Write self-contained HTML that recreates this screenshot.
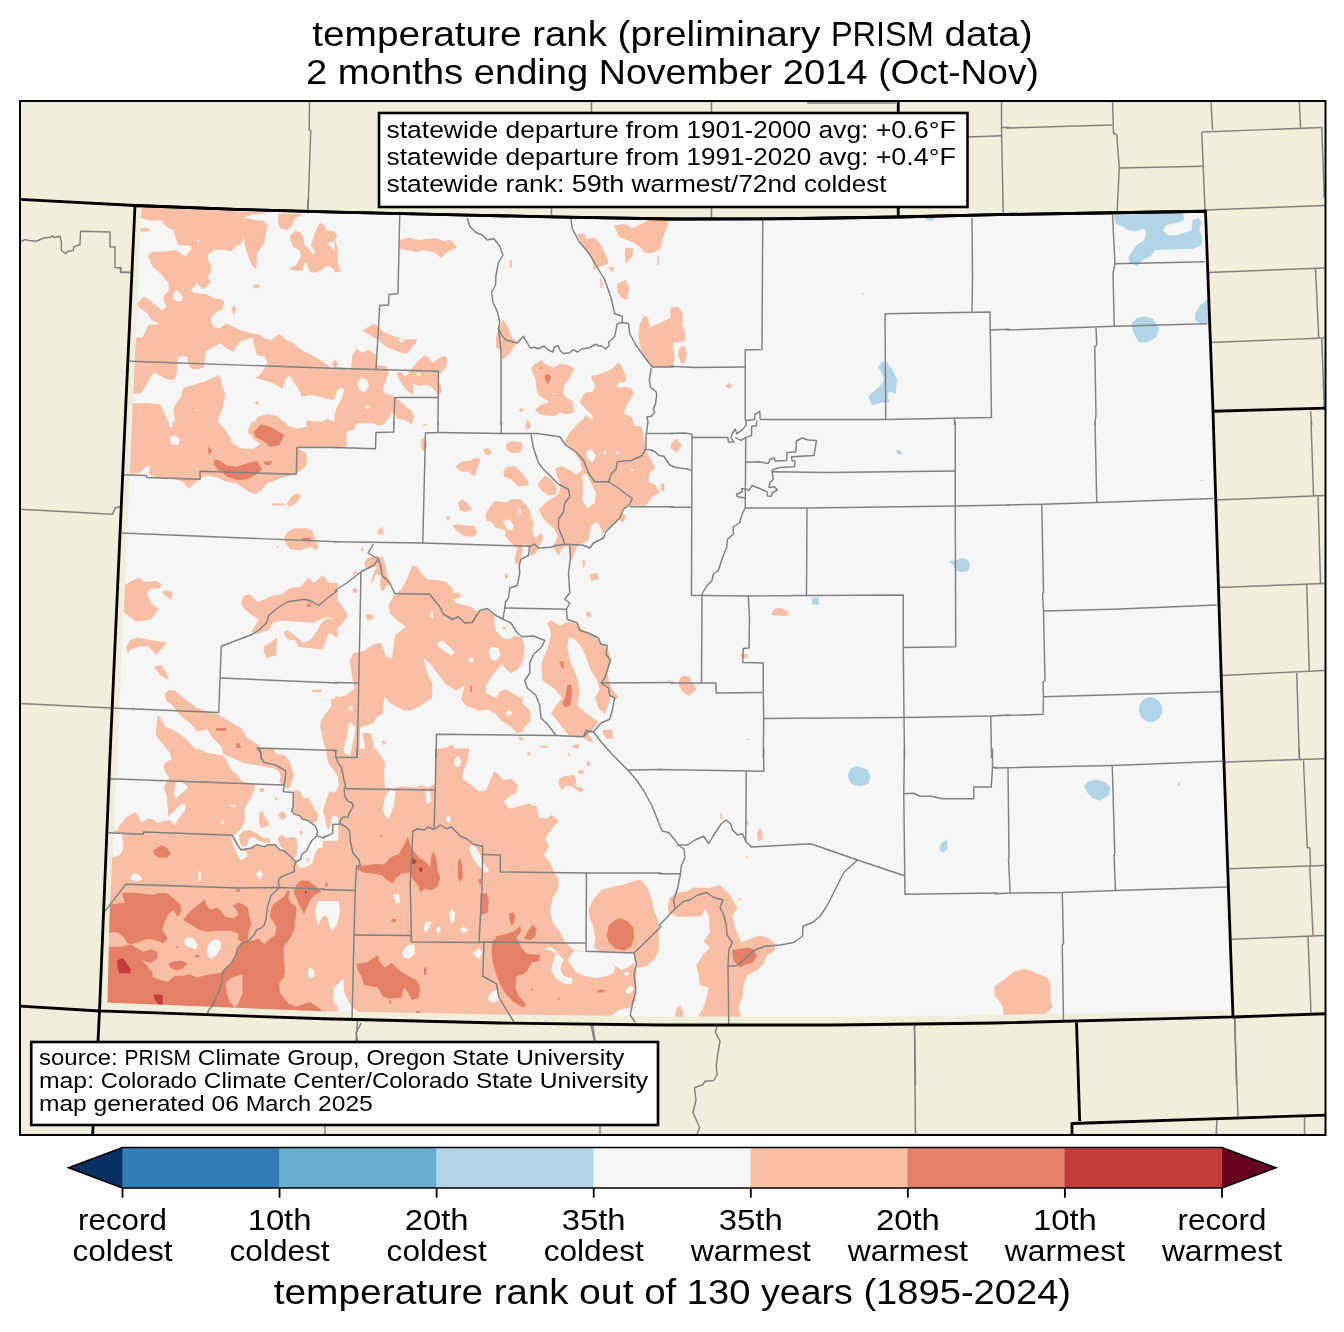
<!DOCTYPE html>
<html><head><meta charset="utf-8"><title>temperature rank</title>
<style>
html,body{margin:0;padding:0;background:#fff;}
body{width:1344px;height:1332px;overflow:hidden;position:relative;font-family:"Liberation Sans",sans-serif;}
svg{display:block;}
text{font-family:"Liberation Sans",sans-serif;fill:#000;}
</style></head><body>
<svg width="1344" height="1332" viewBox="0 0 1344 1332">
<defs>
<clipPath id="frame"><rect x="20" y="101" width="1305.5" height="1034"/></clipPath>
<clipPath id="dataclip"><polygon points="141.5,205.5 236,208.8 336,211.7 468,214.7 551,216.3 672,218.5 760,218.3 800,218 897,216.5 1008,213.9 1100,212.5 1205.5,210.75 1213,411.25 1223.5,750 1232.7,1010 996,1015 835,1016.8 660,1016.5 499,1014.5 324,1011.25 107.5,1002.5 110,900 117.5,756 132,423"/></clipPath>
</defs>
<rect x="0" y="0" width="1344" height="1332" fill="#fff"/>
<!-- map frame background -->
<rect x="20" y="101" width="1305.5" height="1034" fill="#efefdb"/>
<g clip-path="url(#frame)">
<!-- outside county lines -->
<g transform="translate(0,423) scale(0.25)" fill="none" stroke="#808080" stroke-width="5.8" stroke-linejoin="round"><polyline points="80,345 450,365 460,340 480,335"/><polyline points="80,1122 445,1140"/></g>
<g transform="translate(1008,90) scale(0.25)" fill="none" stroke="#808080" stroke-width="5.8" stroke-linejoin="round"><polyline points="-6,152 418,140"/><polyline points="418,40 422,175 435,178 445,312 438,455 437,490"/><polyline points="445,312 778,305"/><polyline points="812,40 818,160"/><polyline points="775,168 1255,150"/><polyline points="775,168 788,480"/><polyline points="1165,40 1170,150"/><polyline points="1255,150 1265,430"/><polyline points="788,480 1268,462"/><polyline points="800,730 1265,712"/><polyline points="1230,715 1243,992"/><polyline points="810,1010 1265,992"/><polyline points="1255,995 1265,1270"/><polyline points="1210,1285 1215,1340"/></g>
<g transform="translate(1008,423) scale(0.25)" fill="none" stroke="#808080" stroke-width="5.8" stroke-linejoin="round"><polyline points="1212,-6 1222,290"/><polyline points="830,308 1265,290"/><polyline points="1240,295 1250,640"/><polyline points="842,658 1265,642"/><polyline points="1195,648 1205,992"/><polyline points="855,1010 1265,990"/><polyline points="1155,1000 1165,1340"/></g>
<g transform="translate(120,200) scale(0.166667)" fill="none" stroke="#808080" stroke-width="8.7" stroke-linejoin="round"><polyline points="-5,405 5,405 5,432 65,435"/><polyline points="1128,-5 1125,55"/></g>
<g transform="translate(324,750) scale(0.25)" fill="none" stroke="#808080" stroke-width="5.8" stroke-linejoin="round"><polyline points="148,1092 140,1110 128,1130 135,1165"/><polyline points="1068,1100 1082,1165"/></g>
<g transform="translate(336,90) scale(0.25)" fill="none" stroke="#808080" stroke-width="5.8" stroke-linejoin="round"><polyline points="1022,40 1022,100"/><polyline points="862,460 862,507"/></g>
<g transform="translate(660,750) scale(0.25)" fill="none" stroke="#808080" stroke-width="5.8" stroke-linejoin="round"><polyline points="228,1105 222,1130 240,1165 232,1210 225,1260 228,1300 215,1322 180,1325 170,1340"/><polyline points="1018,1100 1022,1340"/></g>
<g transform="translate(672,90) scale(0.25)" fill="none" stroke="#808080" stroke-width="5.8" stroke-linejoin="round"><polyline points="158,40 158,100"/><polyline points="158,460 158,512"/><polyline points="540,52 895,52"/><polyline points="1318,40 1318,150 1350,150"/><polyline points="1185,188 1318,183"/><polyline points="1318,150 1325,498"/></g>
<g transform="translate(996,750) scale(0.25)" fill="none" stroke="#808080" stroke-width="5.8" stroke-linejoin="round"><polyline points="915,48 1312,35"/><polyline points="1212,-6 1215,40"/><polyline points="1230,42 1245,390 1255,392 1258,462"/><polyline points="930,475 1312,462"/><polyline points="1255,465 1268,742"/><polyline points="942,757 1312,742"/><polyline points="1248,748 1260,1055"/><polyline points="955,1070 958,1190 962,1340"/></g>
<g transform="translate(0,0) scale(1)" fill="none" stroke="#808080" stroke-width="1.45" stroke-linejoin="round"><polyline points="18.75,243 25,239.5 28.75,240.5 36.25,241.25 43.75,238 51.25,237 52.5,235.75 53.75,237.5 60,236.25 61.5,242.5 61.25,250 65.5,253.75 68,251.25 73.25,250.5 73.75,247 80,244.5 80.5,231.25 110,232 110,246.75 115,247 115,267.5 120.5,268 120.5,272.5 132,272.5"/><polyline points="309.5,100 309.25,130 310.75,130.5 308,211.25"/><polyline points="357.5,1020 356,1041"/><polyline points="592.5,1024 595,1041"/><polyline points="325,1124 325,1136"/><polyline points="600,1124 600,1136"/><polyline points="914.5,1024 915.5,1136"/><polyline points="702.5,1085 694.5,1087.5 696,1100 693,1112.5 699.5,1127.5 696,1137"/><polyline points="1234.5,1016 1238,1117"/><polyline points="1217,1120 1216,1136"/><polyline points="1304.5,1117 1304.5,1136"/></g>

<!-- data field -->
<polygon points="141.5,205.5 236,208.8 336,211.7 468,214.7 551,216.3 672,218.5 760,218.3 800,218 897,216.5 1008,213.9 1100,212.5 1205.5,210.75 1213,411.25 1223.5,750 1232.7,1010 996,1015 835,1016.8 660,1016.5 499,1014.5 324,1011.25 107.5,1002.5 110,900 117.5,756 132,423" fill="#f7f6f6"/>
<g clip-path="url(#dataclip)">
<g transform="translate(0,423) scale(0.25)" fill="#f8bfa4"><polygon points="500,-6 500,205 560,200 585,175 600,170 595,205 620,215 700,225 730,235 755,262 780,240 800,225 820,210 860,215 905,235 945,240 985,270 1020,285 1045,270 1070,240 1100,230 1140,215 1185,205 1215,180 1230,160 1225,120 1188,100 1350,95 1350,-6"/><polygon points="1088,322 1135,322 1140,330 1090,330"/><polygon points="1145,325 1165,295 1190,280 1205,292 1180,325 1160,335"/><polygon points="1135,460 1150,435 1175,422 1225,420 1250,432 1260,465 1275,495 1265,510 1240,495 1200,510 1160,505 1145,485"/><polygon points="1108,492 1113,492 1113,500 1108,500"/><polygon points="480,660 520,635 555,618 580,635 625,632 648,645 640,660 600,665 588,685 605,720 635,745 605,785 545,795 510,770 480,740"/><polygon points="648,675 670,668 692,680 685,705 660,690"/><polygon points="505,895 520,868 550,858 600,868 668,878 625,928 595,895 560,893 525,905 510,922"/><polygon points="615,975 645,968 665,1000 678,1030 650,1015 630,995"/><polygon points="658,1085 675,1068 700,1070 740,1105 790,1140 870,1165 920,1195 965,1220 990,1260 1040,1290 1030,1340 940,1340 923,1325 896,1323 883,1292 850,1260 830,1225 790,1235 760,1200 720,1170 690,1130 665,1110"/><polygon points="630,1170 640,1175 660,1215 700,1230 740,1260 768,1290 792,1314 852,1323 894,1332 900,1340 686,1340 680,1320 656,1290 626,1254 623,1236 629,1183"/><polygon points="965,715 975,690 1000,685 1030,715 1060,705 1090,690 1130,685 1160,660 1200,655 1235,620 1255,640 1290,610 1320,640 1350,640 1350,790 1310,775 1250,800 1200,795 1130,790 1090,800 1075,830 1050,835 1030,845 1005,835 1020,810 1035,785 1010,770 985,750 970,735"/><polygon points="1135,835 1150,828 1185,855 1215,880 1245,865 1270,830 1285,800 1310,780 1350,790 1350,860 1315,840 1290,905 1230,900 1195,895 1180,870 1150,865 1138,850"/><polygon points="1055,895 1080,880 1108,858 1105,930 1065,940 1055,915"/><polygon points="1350,1090 1330,1110 1340,1140 1310,1165 1285,1195 1280,1230 1300,1280 1310,1310 1350,1310"/><polygon points="1248,1068 1285,1066 1285,1078 1250,1076"/><polygon points="532,1135 536,1135 536,1150 532,1150"/></g>
<g transform="translate(90,900) scale(0.166667)" fill="#f8bfa4"><polygon points="60,425 1420,425 1420,700 60,660"/></g>
<g transform="translate(1008,423) scale(0.25)" fill="#f8bfa4"><polygon points="772,228 780,228 780,232 772,232"/></g>
<g transform="translate(100,750) scale(0.166667)" fill="#f8bfa4"><polygon points="40,497 800,512 830,490 850,470 870,420 865,360 880,330 905,290 925,240 930,200 870,195 850,185 825,150 790,120 765,75 742,34 630,15 600,-6 440,-6 420,15 428,55 395,75 380,95 392,135 415,165 400,195 385,215 388,245 400,275 405,330 410,400 440,372 465,340 495,320 512,330 510,365 485,395 462,425 450,455 430,432 420,420 380,425 345,440 325,420 290,410 250,435 215,370 190,385 155,405 130,440 108,460 112,480 40,490"/><polygon points="40,497 800,512 845,598 905,590 940,568 985,580 1010,568 1050,568 1080,600 1105,605 1140,635 1175,672 1200,710 1240,700 1275,680 1290,620 1310,590 1350,580 1350,1340 40,1340"/><polygon points="735,-6 740,25 800,50 860,78 960,95 1040,110 1075,130 1085,160 1075,190 1090,205 1105,215 1120,230 1140,225 1150,190 1165,150 1150,110 1135,60 1105,30 1060,25 1040,-6"/><polygon points="1160,255 1175,235 1200,250 1220,290 1250,285 1270,320 1290,360 1320,395 1305,425 1280,440 1250,425 1215,415 1200,395 1165,385 1150,365 1158,340"/><polygon points="955,232 985,230 985,250 958,250"/><polygon points="1045,285 1060,282 1070,298 1055,305"/><polygon points="955,380 975,365 990,400 1005,425 1020,445 990,460 965,470 955,430"/><polygon points="1068,390 1095,365 1118,395 1095,425"/><polygon points="1195,490 1210,485 1220,500 1205,510"/><polygon points="1235,650 1250,645 1255,660 1240,668"/><polygon points="835,510 860,485 900,480 940,500 975,525 1020,530 1025,560 985,555 950,545 920,520 890,535 885,575 850,580 838,550"/><polygon points="1065,530 1090,505 1120,530 1150,520 1180,530 1185,580 1180,640 1160,650 1140,630 1105,600 1080,575"/></g>
<g transform="translate(120,200) scale(0.166667)" fill="#f8bfa4"><polygon points="128,45 820,72 905,76 790,88 745,105 800,119 860,125 890,155 875,200 865,260 822,320 820,410 808,412 790,390 770,340 745,260 740,215 735,255 700,275 665,310 625,298 560,300 525,335 530,365 550,395 540,440 525,460 545,490 520,520 495,535 462,498 425,545 450,560 520,565 560,590 610,595 625,610 615,655 575,675 550,700 548,740 570,765 600,770 640,740 680,760 720,780 790,800 830,805 870,830 910,840 950,805 975,815 995,840 1030,850 1090,900 1140,925 1200,960 1260,1000 1350,1040 1350,1120 1300,1135 1295,1165 1310,1180 1290,1200 1230,1190 1150,1170 1090,1180 1075,1140 1040,1090 1015,1050 990,1085 975,1135 920,1100 860,1080 810,1068 850,1040 870,1000 885,975 870,940 820,930 800,850 795,825 720,850 680,910 640,890 600,860 560,885 520,905 510,940 505,1000 470,1015 435,1015 410,990 405,945 375,935 345,950 340,1050 325,1080 280,1075 205,1035 180,1070 150,1120 130,1160 60,1165 60,825 135,825 170,750 235,745 185,715 165,680 120,650 100,625 135,585 160,585 200,620 250,660 280,640 258,600 265,570 295,540 290,495 240,440 195,400 180,365 168,335 190,310 250,310 340,300 390,340 430,295 420,275 350,270 330,215 320,180 285,165 240,120 180,125 120,108"/><polygon points="120,168 170,168 180,180 170,190 120,190"/><polygon points="950,80 1100,84 1050,110 1030,160 1000,180 960,170 948,130"/><polygon points="1020,215 1050,185 1085,195 1100,225 1105,265 1130,290 1160,330 1170,310 1145,270 1160,230 1175,180 1200,135 1225,150 1240,185 1280,185 1305,215 1280,250 1240,260 1270,285 1295,320 1305,400 1330,430 1290,420 1250,395 1215,415 1180,435 1145,435 1125,400 1115,370 1100,395 1095,425 1050,425 1010,415 1060,385 1085,340 1080,305 1040,280 1022,245"/><polygon points="798,508 830,505 847,515 825,530 802,528"/><polygon points="683,630 700,655 685,690 668,655"/><polygon points="1268,982 1292,955 1308,985 1292,1008"/><polygon points="808,1215 822,1208 835,1218 822,1230"/><polygon points="60,1220 150,1218 240,1225 260,1260 280,1310 290,1340 60,1340"/><polygon points="385,1125 440,1110 520,1085 590,1050 605,1070 610,1110 632,1160 620,1240 600,1290 585,1340 330,1340 320,1250 365,1180 372,1140"/><polygon points="800,1340 830,1300 880,1285 940,1295 970,1320 990,1340"/><polygon points="1310,1180 1350,1170 1350,1340 1285,1340 1300,1290 1320,1250 1335,1215"/></g>
<g transform="translate(324,750) scale(0.25)" fill="#f8bfa4"><polygon points="-6,-6 580,-6 575,40 560,80 555,115 590,140 620,165 650,160 665,120 680,85 700,100 715,120 750,115 775,140 770,170 745,185 720,205 740,235 780,225 820,215 850,225 860,270 890,275 910,260 940,285 915,310 885,355 900,385 880,420 905,450 920,490 940,520 935,560 915,590 905,640 915,690 945,730 965,770 1000,800 1048,808 1100,815 1140,835 1165,865 1190,880 1215,870 1240,850 1250,900 1245,960 1250,1000 1225,1030 1180,1040 1150,1062 1150,1100 -6,1100"/><polygon points="1058,640 1075,600 1110,560 1150,548 1200,538 1240,525 1265,518 1290,545 1310,590 1320,640 1338,690 1340,720 1240,812 1200,812 1150,810 1100,808 1080,790 1085,750 1075,700 1062,670"/><polygon points="1240,812 1340,712 1340,800 1320,840 1290,865 1255,872 1245,850"/><polygon points="938,120 960,105 1000,100 1010,120 1005,145 1030,150 1040,160 1025,170 1000,150 975,140 950,160 940,140"/><polygon points="1015,85 1035,78 1042,92 1025,98"/><polygon points="1050,50 1062,42 1065,60 1055,68"/><polygon points="815,8 825,8 825,20 815,20"/><polygon points="975,12 982,12 982,25 975,25"/></g>
<g transform="translate(336,90) scale(0.25)" fill="#f8bfa4"><polygon points="255,600 290,590 330,600 400,592 430,605 460,600 485,630 440,650 420,672 395,650 350,640 320,648 255,635"/><polygon points="-6,590 8,640 5,690 20,725 -6,730"/><polygon points="105,962 150,935 170,945 185,965 230,985 280,1000 322,998 290,1050 240,1035 190,1010 150,990"/><polygon points="65,1065 80,1035 105,1050 130,1040 160,1060 162,1122 200,1125 215,1150 210,1185 190,1215 235,1228 230,1333 -6,1333 -6,1118 60,1118"/><polygon points="310,1100 355,1060 375,1085 420,1065 445,1080 440,1120 410,1130 415,1200 405,1225 330,1210 290,1170 265,1190 240,1150 260,1125 310,1120"/><polygon points="640,990 650,955 668,918 690,950 705,990 725,1010 690,1060 665,1080 655,1040 640,1030"/><polygon points="695,680 703,680 703,710 695,710"/><polygon points="1112,543 1126,539 1149,536 1171,543 1187,553 1211,539 1235,529 1249,517 1333,517 1326,546 1316,570 1306,598 1302,622 1292,641 1261,653 1235,650 1226,639 1211,624 1187,610 1159,598 1140,591 1128,581 1121,562"/><polygon points="965,575 995,575 1000,595 1035,592 1060,620 1085,670 1090,695 1060,705 1030,720 1025,680 1005,650 985,620"/><polygon points="1158,630 1190,635 1185,665 1160,695 1155,660"/><polygon points="1090,710 1108,705 1115,720 1100,727"/><polygon points="1125,775 1160,760 1172,790 1165,840 1140,830 1125,805"/><polygon points="1055,755 1063,757 1066,795 1058,790"/><polygon points="1285,665 1292,665 1292,700 1285,700"/><polygon points="1215,935 1235,900 1250,915 1255,950 1290,935 1350,905 1350,1108 1265,1108 1240,1075 1215,1030 1210,980"/><polygon points="780,1112 795,1096 822,1080 843,1099 873,1111 894,1096 929,1099 952,1112 945,1134 929,1161 913,1179 908,1212 924,1233 948,1246 952,1289 935,1295 918,1297 897,1289 876,1303 843,1303 817,1297 796,1281 817,1260 841,1254 852,1246 833,1236 811,1222 802,1198 798,1155 785,1129"/><polygon points="1130,1088 1141,1102 1152,1126 1160,1145 1160,1166 1130,1171 1123,1185 1133,1192 1160,1187 1184,1196 1192,1214 1178,1236 1165,1254 1160,1273 1152,1287 1157,1297 1184,1308 1187,1327 1184,1346 1213,1343 1224,1364 1229,1378 924,1378 935,1370 956,1348 983,1324 999,1300 1012,1311 1028,1319 1023,1300 1007,1284 988,1265 975,1249 983,1230 999,1209 1026,1208 1034,1193 1036,1177 1023,1158 1020,1142 1042,1140 1068,1131 1101,1118"/><polygon points="732,1279 742,1271 752,1279 744,1288 735,1287"/><polygon points="757,1343 760,1327 767,1316 774,1329 780,1346 768,1359 758,1354"/><polygon points="240,1235 265,1240 300,1280 325,1333 235,1333"/></g>
<g transform="translate(336,423) scale(0.25)" fill="#f8bfa4"><polygon points="-6,-8 95,-8 79,8 72,26 55,31 42,36 43,91 41,99 20,99 -6,99"/><polygon points="150,-8 155,2 165,11 177,12 191,6 200,-4 202,-8"/><polygon points="340,65 355,60 365,90 355,115 342,105"/><polygon points="478,175 500,155 540,150 560,138 578,145 565,180 555,215 530,195 500,195"/><polygon points="590,105 610,100 625,118 610,130 592,120"/><polygon points="680,85 700,72 740,75 748,95 735,118 700,120 682,105"/><polygon points="668,195 685,175 715,172 745,200 770,235 770,250 730,255 700,225 672,215"/><polygon points="805,245 835,210 860,225 885,255 880,285 850,290 820,270"/><polygon points="488,320 505,305 525,320 545,345 520,355 495,350"/><polygon points="440,378 450,370 457,382 447,392"/><polygon points="465,408 490,405 530,412 555,410 565,440 550,455 510,452 480,430"/><polygon points="165,430 185,415 192,445 170,447"/><polygon points="598,365 615,335 635,312 680,318 700,305 740,305 770,340 790,400 785,440 800,460 820,440 830,455 815,490 800,520 780,535 770,500 750,480 745,515 735,560 718,565 715,540 725,500 700,480 675,450 680,430 640,420 620,395 600,390"/><polygon points="975,-6 940,35 915,70 925,95 955,120 975,150 985,190 960,205 935,188 900,172 875,185 885,215 900,250 890,285 850,310 810,345 830,385 870,420 888,455 868,492 890,532 905,500 930,490 935,560 955,520 965,490 1010,470 1020,410 1045,395 1060,420 1065,445 1095,415 1130,385 1150,400 1160,370 1140,360 1160,335 1185,330 1240,330 1265,295 1295,280 1280,250 1250,235 1255,200 1278,180 1262,150 1240,110 1232,60 1222,14 1190,12 1190,-6"/><polygon points="1298,245 1312,240 1315,270 1300,275"/><polygon points="985,550 998,548 995,575 988,580"/><polygon points="1015,605 1045,598 1050,625 1020,632"/><polygon points="1000,755 1020,755 1018,780 1003,770"/><polygon points="675,605 685,600 688,620 676,622"/><polygon points="668,815 678,815 678,825 668,825"/><polygon points="112,560 125,540 165,530 190,540 200,575 205,610 220,640 200,655 185,675 175,650 180,610 160,605 150,630 140,640 150,600 165,575 140,575 118,580"/><polygon points="65,665 80,660 88,675 72,682"/><polygon points="68,595 78,590 80,605 70,608"/><polygon points="100,500 110,500 110,512 100,512"/><polygon points="118,770 135,762 152,772 140,790 122,785"/><polygon points="-6,710 15,715 48,770 20,810 -6,825"/><polygon points="305,570 325,575 345,605 365,625 400,628 440,635 465,660 470,680 495,678 497,700 470,705 480,720 540,735 565,755 575,750 605,745 635,770 632,800 640,830 665,860 690,865 720,850 745,860 755,890 750,950 730,985 700,1000 680,985 665,965 645,985 620,1020 600,1050 600,1080 640,1100 655,1075 680,1065 740,1100 750,1090 745,1120 775,1150 780,1190 755,1215 745,1235 720,1240 700,1215 660,1190 640,1165 610,1145 570,1150 520,1130 500,1105 515,1050 480,1070 440,1045 400,995 375,960 350,940 365,1000 385,1040 385,1100 340,1130 300,1150 270,1150 215,1120 195,1095 188,1130 190,1160 160,1180 150,1200 105,1215 85,1230 60,1200 45,1215 50,1290 30,1340 -6,1340 -6,1100 40,1090 75,1060 65,1020 55,950 70,920 115,910 150,885 180,880 200,935 225,940 235,850 280,815 245,790 215,760 210,730 230,690 265,660 285,620"/><polygon points="845,800 860,788 895,810 930,795 965,805 990,830 1030,850 1060,880 1085,900 1100,945 1085,1000 1100,1060 1130,1095 1115,1110 1100,1090 1090,1130 1075,1165 1050,1140 1035,1100 1055,1065 1045,1030 1020,990 1005,950 985,900 950,860 930,860 925,900 940,960 965,1020 975,1070 965,1130 1000,1160 1050,1195 1020,1235 990,1255 935,1255 900,1210 860,1160 880,1130 905,1100 870,1060 825,1030 822,960 850,890 860,840"/><polygon points="425,1340 440,1300 465,1285 480,1310 520,1320 530,1340"/><polygon points="730,1255 750,1258 748,1272 735,1268"/><polygon points="815,1290 848,1292 840,1300 818,1298"/><polygon points="945,1288 975,1285 970,1302 948,1300"/><polygon points="1000,1235 1020,1260 1030,1280 1005,1270 990,1258"/><polygon points="1065,1230 1105,1225 1108,1262 1085,1265 1070,1245"/><polygon points="765,1323 771,1312 778,1323 771,1334"/><polygon points="105,1240 140,1240 150,1290 155,1340 110,1340 115,1290"/><polygon points="182,1275 192,1268 200,1280 190,1290"/><polygon points="1325,1028 1335,1028 1335,1033 1325,1033"/></g>
<g transform="translate(660,750) scale(0.25)" fill="#f8bfa4"><polygon points="30,620 40,590 70,570 110,565 135,550 195,552 240,540 275,575 295,605 310,635 290,660 300,710 325,770 360,755 400,742 435,752 458,775 462,800 430,820 410,860 390,880 350,900 335,940 330,985 315,1030 325,1075 145,1075 170,1040 180,1010 195,950 160,940 155,900 145,860 175,815 200,790 175,765 200,730 195,660 180,635 165,665 70,668 35,650"/><polygon points="58,1075 65,1035 82,1022 92,1045 95,1075"/><polygon points="240,252 247,255 247,280 241,275"/><polygon points="345,280 353,285 353,300 346,298"/><polygon points="388,330 400,312 410,330 408,360 392,365"/><polygon points="343,425 350,425 350,432 343,432"/><polygon points="310,595 322,592 322,605"/><polygon points="1335,955 1350,948 1350,980"/></g>
<g transform="translate(672,90) scale(0.25)" fill="#f8bfa4"><polygon points="-6,870 25,868 45,895 42,940 55,975 50,1005 20,1010 -6,1010"/><polygon points="28,1035 48,1020 60,1050 52,1090 38,1095 25,1065"/><polygon points="-6,1045 8,1045 10,1085 -6,1085"/><polygon points="213,1185 228,1172 243,1185 228,1195"/></g>
<g transform="translate(672,423) scale(0.25)" fill="#f8bfa4"><polygon points="-6,85 18,62 40,90 18,118 -6,100"/><polygon points="400,755 415,742 440,740 470,760 455,772 400,768"/><polygon points="272,925 303,925 303,940 280,938"/><polygon points="28,1030 40,1012 65,1012 85,1040 97,1065 70,1092 45,1078 30,1055"/></g>
<g transform="translate(996,750) scale(0.25)" fill="#f8bfa4"><polygon points="-6,945 30,920 75,885 120,875 155,890 205,910 220,940 218,1000 225,1030 185,1070 30,1070 28,1030 10,1000 -6,985"/></g>
<g transform="translate(0,423) scale(0.25)" fill="#f7f6f6"><polygon points="678,60 700,48 720,65 712,88 685,85"/><polygon points="675,-9 690,-9 688,18 678,15"/><polygon points="870,-9 910,40 930,80 960,100 1010,105 1040,85 1010,60 990,35 1000,10 1010,-9"/><polygon points="1140,-9 1228,-9 1225,15 1190,22 1150,12"/></g>
<g transform="translate(90,900) scale(0.166667)" fill="#f7f6f6"><polygon points="1310,416 1326,408 1342,422 1348,451 1326,473 1310,457"/></g>
<g transform="translate(100,750) scale(0.166667)" fill="#f7f6f6"><polygon points="455,195 490,190 530,225 500,250 470,275 455,295 445,260 450,225"/><polygon points="725,422 740,418 745,440 730,445"/><polygon points="775,328 815,332 815,340 778,336"/><polygon points="40,500 130,500 140,560 135,600 120,630 85,640 40,640"/><polygon points="180,760 205,740 240,752 252,775 225,788 190,780"/><polygon points="590,728 605,728 605,785 592,780"/><polygon points="935,745 958,720 980,745 958,775"/><polygon points="790,520 810,560 840,600 880,610 885,640 845,660 820,620 800,570 785,535"/><polygon points="505,1140 530,1122 560,1130 585,1165 575,1195 540,1185 510,1170"/><polygon points="645,1180 670,1145 700,1135 725,1150 722,1195 700,1230 665,1255 645,1230"/><polygon points="1255,1305 1280,1320 1275,1340 1250,1340"/><polygon points="1188,1102 1194,1102 1194,1110 1188,1110"/></g>
<g transform="translate(120,200) scale(0.166667)" fill="#f7f6f6"><polygon points="320,560 340,540 360,560 378,585 370,605 340,610 320,590"/><polygon points="462,240 474,240 474,252 462,252"/><polygon points="460,1254 468,1254 468,1264 460,1264"/></g>
<g transform="translate(324,750) scale(0.25)" fill="#f7f6f6"><polygon points="-9,295 60,292 55,320 20,345 -9,350"/><polygon points="205,-9 448,-9 445,135 415,150 385,140 370,150 310,145 280,155 245,150 240,100 245,50 225,20"/><polygon points="235,240 245,185 265,160 285,165 280,220 260,275 245,265"/><polygon points="405,165 425,165 428,210 410,215"/><polygon points="520,40 535,22 552,45 540,70 522,62"/><polygon points="488,275 498,260 508,280 498,292"/><polygon points="275,580 300,575 305,610 290,615"/><polygon points="398,720 405,690 430,685 420,715 405,728"/><polygon points="448,715 460,705 468,722 455,735"/><polygon points="500,660 510,635 525,650 522,685 508,695"/><polygon points="540,718 560,708 578,720 560,732"/><polygon points="580,385 600,380 625,420 635,450 660,480 650,492 625,470 600,440 585,410"/><polygon points="312,810 335,780 360,778 365,815 340,835 320,830"/><polygon points="595,815 620,790 632,810 620,838"/><polygon points="655,990 672,965 695,960 700,1000 680,1010 660,1005"/><polygon points="78,913 80,966 91,995 112,1029 133,1046 133,1070 61,1070 53,1025 36,1003 40,949 57,934"/><polygon points="-23,604 59,604 64,642 53,697 32,724 22,701 15,671 5,661 -8,671 -23,699 -31,671 -35,642 -29,621"/><polygon points="880,793 905,788 935,808 925,825 915,850 908,880 925,910 960,935 990,937 995,915 960,905 945,880 950,855 960,838 935,815 900,800"/><polygon points="975,838 1000,803 1048,808 1100,815 1140,835 1165,865 1160,890 1130,905 1090,912 1045,905 1010,890 990,865"/><polygon points="1200,895 1212,885 1222,895 1210,905"/><polygon points="1205,960 1230,940 1240,955 1225,975 1208,972"/></g>
<g transform="translate(336,90) scale(0.25)" fill="#f7f6f6"><polygon points="868,1212 876,1212 876,1216 868,1216"/><polygon points="100,1150 125,1160 132,1185 115,1210 95,1200 85,1175"/><polygon points="115,1265 128,1260 135,1270 122,1277"/></g>
<g transform="translate(336,423) scale(0.25)" fill="#f7f6f6"><polygon points="668,392 695,385 710,410 705,430 685,425 675,405"/><polygon points="728,345 738,342 740,360 730,365"/><polygon points="985,215 1000,200 1020,240 1040,280 1035,320 1005,340 985,310 990,260"/><polygon points="1000,115 1020,105 1040,130 1025,160 1005,140"/><polygon points="1072,112 1080,112 1080,125 1072,125"/><polygon points="1120,115 1130,115 1130,125 1120,125"/><polygon points="1180,185 1190,185 1190,192 1180,192"/><polygon points="405,880 425,870 455,895 475,920 460,930 430,910 410,895"/><polygon points="610,910 625,895 650,900 658,930 640,950 618,945"/><polygon points="528,945 545,935 550,955 535,960"/><polygon points="378,755 388,750 388,778 378,778"/><polygon points="680,1160 692,1148 705,1160 692,1175"/></g>
<g transform="translate(0,423) scale(0.25)" fill="#e48066"><polygon points="1015,35 1045,5 1080,15 1138,48 1115,90 1080,95 1050,70 1020,55"/><polygon points="858,145 880,150 905,170 945,175 1000,158 1030,152 1048,185 1035,200 990,225 950,228 910,215 870,185 855,165"/><polygon points="1055,155 1090,152 1075,170 1060,168"/><polygon points="832,95 850,112 835,130"/><polygon points="1208,460 1243,460 1243,470 1208,470"/><polygon points="1225,735 1237,718 1248,735"/><polygon points="865,1220 905,1220 905,1232 865,1232"/><polygon points="945,1282 955,1280 965,1300 945,1300"/></g>
<g transform="translate(90,900) scale(0.166667)" fill="#e48066"><polygon points="60,425 375,425 375,460 420,480 465,490 510,455 560,455 600,445 640,465 700,450 790,435 795,425 1167,425 1165,460 1135,500 1140,560 1190,620 1235,640 1280,625 1316,612 1357,634 1392,665 1392,700 60,660"/></g>
<g transform="translate(100,750) scale(0.166667)" fill="#e48066"><polygon points="318,605 345,585 370,572 400,585 425,620 405,645 350,645 325,625"/><polygon points="818,835 840,835 840,850 820,850"/><polygon points="1160,850 1185,800 1210,782 1250,785 1290,815 1330,850 1290,870 1260,905 1240,950 1225,985 1195,930 1175,880"/><polygon points="40,935 75,925 150,915 130,860 165,855 240,860 320,870 350,858 400,858 440,890 475,920 490,950 485,975 465,1000 440,960 410,985 395,1020 380,1050 375,1085 395,1110 405,1135 380,1160 345,1145 310,1135 280,1135 240,1150 185,1165 165,1160 140,1120 100,1090 40,1100"/><polygon points="500,1020 525,985 560,950 600,920 630,895 640,935 665,960 700,945 725,965 750,1000 800,1010 830,990 820,960 795,935 830,915 865,930 890,950 895,1000 910,1040 895,1075 890,1105 885,1150 860,1155 830,1140 830,1100 780,1085 700,1085 640,1090 590,1075 540,1045"/><polygon points="1025,960 1040,925 1075,900 1105,880 1125,845 1140,845 1130,890 1150,920 1180,945 1175,1000 1165,1080 1140,1130 1110,1165 1100,1190 1105,1260 1110,1340 735,1340 790,1280 815,1235 830,1190 855,1160 890,1148 930,1140 950,1130 985,1165 1010,1140 1050,1110 1060,1060 1040,1030 1020,1000"/><polygon points="40,1180 130,1180 185,1165 215,1185 260,1210 310,1195 345,1210 345,1250 300,1280 250,1260 280,1290 300,1320 290,1340 40,1340"/><polygon points="410,1280 445,1268 490,1265 525,1280 500,1310 460,1325 425,1310"/><polygon points="570,1232 600,1230 590,1245 575,1245"/><polygon points="455,1178 468,1178 468,1186 455,1186"/></g>
<g transform="translate(324,750) scale(0.25)" fill="#e48066"><polygon points="130,465 160,462 215,455 240,458 265,430 300,415 320,380 335,345 345,380 355,400 380,430 410,450 425,470 430,420 440,405 450,440 455,480 465,510 455,545 430,560 400,555 385,570 375,540 350,510 340,490 310,495 290,510 275,535 250,520 230,500 195,495 160,490 135,480"/><polygon points="535,450 545,432 553,460 555,510 545,530 535,510"/><polygon points="625,575 650,572 660,600 655,650 630,658 625,620"/><polygon points="618,518 628,515 628,535 620,535"/><polygon points="740,655 755,648 765,665 760,695 748,700 742,680"/><polygon points="800,755 815,725 835,698 850,715 845,745 825,760"/><polygon points="672,775 690,745 730,735 760,725 785,705 790,725 770,750 790,790 810,815 865,820 860,845 830,850 815,880 800,895 770,905 765,950 780,985 810,1020 795,1030 760,1010 730,980 705,940 690,900 675,850 670,810"/><polygon points="1130,740 1140,700 1165,680 1185,672 1215,685 1238,710 1240,750 1230,785 1200,803 1165,795 1140,770"/><polygon points="130,855 170,850 215,820 225,850 245,870 270,852 300,880 340,905 370,920 385,950 380,990 350,1000 340,975 320,950 310,990 260,995 235,985 215,950 160,940 150,905 135,880"/><polygon points="268,678 288,675 288,688 272,690"/><polygon points="400,870 410,870 410,900 400,900"/><polygon points="5,530 15,530 15,545 5,545"/><polygon points="1092,960 1122,958 1118,970 1095,970"/><polygon points="828,955 835,955 835,962 828,962"/><polygon points="935,992 942,992 942,998 935,998"/><polygon points="262,1000 268,1000 268,1015 262,1015"/><polygon points="225,340 232,340 232,347 225,347"/><polygon points="368,1045 385,1045 385,1052 368,1052"/></g>
<g transform="translate(336,90) scale(0.25)" fill="#e48066"><polygon points="835,1142 846,1135 858,1142 860,1155 852,1166 846,1179 841,1169 835,1155"/><polygon points="816,1110 825,1109 825,1115 817,1116"/></g>
<g transform="translate(336,423) scale(0.25)" fill="#e48066"><polygon points="537,1048 545,1048 543,1080 537,1075"/><polygon points="893,955 910,952 912,985 900,975"/><polygon points="925,1050 940,1045 945,1080 938,1130 920,1138 905,1125 918,1095"/></g>
<g transform="translate(660,750) scale(0.25)" fill="#e48066"><polygon points="288,800 320,795 355,790 380,800 385,830 370,850 340,860 322,870 295,848"/></g>
<g transform="translate(90,900) scale(0.166667)" fill="#f8bfa4"><polygon points="815,500 850,465 915,445 915,560 890,620 870,645 840,610 820,560"/></g>
<g transform="translate(90,900) scale(0.166667)" fill="#c43b3c"><polygon points="162,365 195,348 225,385 245,420 230,440 195,435 170,410"/><polygon points="380,570 405,565 435,572 437,628 410,625 390,600"/></g>
<g transform="translate(100,750) scale(0.166667)" fill="#c43b3c"><polygon points="105,1265 135,1248 155,1280 175,1310 185,1340 115,1340 105,1300"/><polygon points="1230,845 1240,845 1240,862 1230,862"/></g>
<g transform="translate(324,750) scale(0.25)" fill="#c43b3c"><polygon points="345,440 358,432 372,445 360,458 348,452"/><polygon points="378,475 388,468 396,480 386,490"/></g>
<g transform="translate(1008,90) scale(0.25)" fill="#b1d5e7"><polygon points="425,500 700,490 705,520 680,530 635,540 620,560 640,582 680,580 735,560 738,520 760,512 775,525 765,560 778,590 775,620 740,635 660,638 590,640 570,665 540,680 515,705 485,690 482,665 515,620 545,600 552,575 545,555 510,565 480,560 455,545 430,535"/><polygon points="495,935 515,912 545,905 580,915 605,955 592,990 560,1008 525,1010 510,985 497,960"/><polygon points="750,890 770,860 795,840 810,840 810,935 770,935 748,920"/></g>
<g transform="translate(1008,423) scale(0.25)" fill="#b1d5e7"><polygon points="617,1146 613.422,1165.13 603.234,1181.36 587.986,1192.19 570,1196 552.014,1192.19 536.766,1181.36 526.578,1165.13 523,1146 526.578,1126.87 536.766,1110.64 552.014,1099.81 570,1096 587.986,1099.81 603.234,1110.64 613.422,1126.87"/></g>
<g transform="translate(660,750) scale(0.25)" fill="#b1d5e7"><polygon points="752,95 765,72 790,65 830,78 842,105 835,135 800,145 770,138 755,120"/><polygon points="1118,385 1130,368 1148,358 1150,395 1135,410 1120,405"/></g>
<g transform="translate(672,90) scale(0.25)" fill="#b1d5e7"><polygon points="825,1110 840,1085 860,1090 885,1125 900,1160 895,1215 870,1205 862,1220 870,1250 840,1250 800,1262 785,1225 830,1185 850,1160 838,1130"/><polygon points="1015,512 1050,512 1045,522 1020,522"/><polygon points="760,812 765,812 765,820 760,820"/></g>
<g transform="translate(672,423) scale(0.25)" fill="#b1d5e7"><polygon points="897,110 910,108 925,125 900,122"/><polygon points="1108,552 1135,550 1160,540 1185,548 1192,570 1185,592 1155,597 1135,588 1125,570"/><polygon points="560,697 588,697 588,727 560,727"/><polygon points="300,1264 312,1264 312,1268 300,1268"/></g>
<g transform="translate(996,750) scale(0.25)" fill="#b1d5e7"><polygon points="352,145 370,125 400,118 440,130 458,150 452,180 415,203 385,192 365,170"/><polygon points="728,130 736,130 736,143 728,143"/></g>
<g transform="translate(240,700) scale(0.105105)" fill="#f8bfa4"><polygon points="760,-6 1140,-6 1140,1340 760,1340"/></g>
<g transform="translate(240,700) scale(0.105105)" fill="#f7f6f6"><polygon points="1040,220 1060,215 1100,260 1090,330 1060,470 1050,530 1010,520 985,480 1000,420 1020,330 1030,260"/><polygon points="740,-6 860,-6 870,60 840,100 800,150 770,200 765,260 780,330 800,420 820,480 830,560 850,620 900,680 930,730 940,800 925,850 900,880 850,870 830,930 800,1010 790,1060 810,1120 820,1200 840,1230 870,1180 865,1130 880,1105 920,1105 935,1130 935,1340 740,1340"/><polygon points="1038,62 1072,62 1072,98 1038,98"/></g>
<g transform="translate(120,380) scale(0.178571)" fill="#f8bfa4"><polygon points="1200,190 1245,235 1230,255 1160,215 1120,245 1050,225 1040,250 1270,250 1270,180"/></g>
<g transform="translate(120,380) scale(0.178571)" fill="#f7f6f6"><polygon points="1200,110 1215,60 1235,40 1255,55 1240,110 1215,150 1203,190 1190,190 1190,110"/></g>
<g transform="translate(330,340) scale(0.0892857)" fill="#f7f6f6"><polygon points="527,-5 1350,-5 1350,1012 527,1012"/></g>
<g transform="translate(330,340) scale(0.0892857)" fill="#f8bfa4"><polygon points="545,-8 975,-8 960,40 920,70 900,110 860,155 830,150 760,125 700,105 640,85 590,45 560,20"/><polygon points="905,338 935,290 980,245 1020,205 1060,170 1085,175 1110,210 1150,250 1190,225 1240,195 1285,180 1310,210 1310,290 1270,340 1235,380 1220,345"/><polygon points="740,380 790,350 810,378 840,402 870,388 900,345 1215,350 1222,480 1240,495 1255,570 1240,590 1215,610 1195,590 1160,550 1130,520 1080,505 1040,510 990,515 945,495 920,485 935,520 940,570 930,625 905,600 870,570 830,520 795,480 770,430 760,400"/><polygon points="520,280 560,285 610,292 645,300 650,335 660,380 640,420 625,470 600,520 595,560 615,590 640,610 700,620 725,640 760,660 800,700 850,745 910,790 940,850 930,900 915,950 880,920 840,895 790,890 750,880 730,830 720,830 690,810 660,870 640,900 600,945 540,960 520,948"/><polygon points="1040,945 1095,940 1070,960 1045,960"/></g>
<g transform="translate(330,340) scale(0.0892857)" fill="#f7f6f6"><polygon points="760,-8 790,30 815,20 845,-8"/><polygon points="965,380 990,360 1020,380 992,412"/></g>

</g>
<!-- county lines inside -->
<g transform="translate(0,423) scale(0.25)" fill="none" stroke="#808080" stroke-width="5.8" stroke-linejoin="round"><polyline points="495,207 585,210 588,218 800,225 800,193 1185,205 1188,98 1350,98"/><polyline points="488,440 1350,475"/><polyline points="445,1140 875,1158 885,893 1010,845 1040,825 1065,800 1075,770 1110,740 1150,715 1220,705 1250,715 1275,730 1310,700 1350,670"/><polyline points="880,1020 1350,1040"/><polyline points="1025,1300 1350,1310"/><polyline points="1040,1300 1045,1340"/></g>
<g transform="translate(90,900) scale(0.166667)" fill="none" stroke="#808080" stroke-width="8.7" stroke-linejoin="round"><polyline points="800,425 795,435 790,500 775,545 755,590 735,635 712,660 705,682"/></g>
<g transform="translate(1008,90) scale(0.25)" fill="none" stroke="#808080" stroke-width="5.8" stroke-linejoin="round"><polyline points="418,500 428,695 788,687"/><polyline points="428,695 420,735 425,945"/><polyline points="-6,960 425,945 795,935"/><polyline points="352,950 355,1020 347,1025 352,1300 347,1340"/></g>
<g transform="translate(1008,423) scale(0.25)" fill="none" stroke="#808080" stroke-width="5.8" stroke-linejoin="round"><polyline points="348,-6 355,318"/><polyline points="-6,328 135,325 355,318 820,302"/><polyline points="135,325 142,680 138,682 142,752 148,1030 140,1035 142,1095 140,1165 -6,1170"/><polyline points="142,752 420,745 835,728"/><polyline points="142,1095 848,1075"/></g>
<g transform="translate(100,750) scale(0.166667)" fill="none" stroke="#808080" stroke-width="8.7" stroke-linejoin="round"><polyline points="60,172 1105,210"/><polyline points="945,-6 965,15 965,45 985,75 1050,88 1080,105 1115,125 1110,185 1105,210 1100,250 1160,255 1158,340 1150,365 1165,385 1200,395 1215,415 1250,425 1290,455 1305,485 1300,515 1350,530"/><polyline points="1300,515 1270,545 1250,580 1240,605 1210,625 1205,655 1175,672"/><polyline points="50,497 260,505 262,492 795,512 805,530 820,560 845,598 905,590 940,568 985,580 1010,568 1050,568 1080,600 1105,605 1140,635 1165,660 1175,672 1165,700 1165,730 1100,755 1075,770 1070,800 1078,825"/><polyline points="30,968 155,805 830,828 1078,825 1350,835"/><polyline points="1078,825 1055,845 1025,875 1005,940 995,1020 985,1050 965,1070 940,1078 925,1110 890,1145 850,1160 825,1190 815,1230 790,1275 750,1315 735,1340"/></g>
<g transform="translate(120,200) scale(0.166667)" fill="none" stroke="#808080" stroke-width="8.7" stroke-linejoin="round"><polyline points="55,968 1350,1012"/></g>
<g transform="translate(324,750) scale(0.25)" fill="none" stroke="#808080" stroke-width="5.8" stroke-linejoin="round"><polyline points="30,1 47,2 47,29 131,30 132,-6"/><polyline points="47,29 59,56 70,69 78,111 87,149 80,157 84,187 97,206 110,210 118,223 108,241 99,254 97,267 76,269 66,279 66,296 84,305 101,321 105,347 105,363 115,410 140,440 145,460 130,465 125,562 120,740 112,1078"/><polyline points="88,155 445,160"/><polyline points="448,-6 445,160 440,318"/><polyline points="66,296 35,298 35,332 22,340 -6,350"/><polyline points="-6,558 125,562"/><polyline points="120,740 348,742 350,768 620,770 640,768 965,772 1050,772"/><polyline points="350,768 345,540 355,325 375,315 400,320 415,308 440,318 465,300 490,315 510,308 545,345 570,355 600,378 635,385 632,550 620,770"/><polyline points="635,418 705,420 705,488 1050,492 1350,492"/><polyline points="1050,492 1048,805 1240,812 1350,705"/><polyline points="640,768 635,905 690,935 700,990 730,1040 760,1088"/><polyline points="1240,812 1250,860 1240,900 1248,960 1235,1010 1225,1060 1245,1090"/><polyline points="1148,12 1175,40 1215,80 1350,78"/><polyline points="1215,80 1250,120 1280,165 1310,220 1335,280 1342,300"/></g>
<g transform="translate(336,90) scale(0.25)" fill="none" stroke="#808080" stroke-width="5.8" stroke-linejoin="round"><polyline points="255,500 248,815 212,818 210,860 175,862 160,1118"/><polyline points="-6,1113 160,1118 410,1125 408,1340"/><polyline points="408,1230 235,1230 231,1340"/><polyline points="525,512 535,545 560,570 585,580 605,600 632,595 655,625 668,660 650,690 640,740 638,780 622,810 628,850 645,885 655,930 650,955 665,985 680,1000 715,1010 725,1012 750,985 758,1000 777,1032 795,1029 809,1035 833,1024 849,1040 868,1048 873,1027 889,1024 897,1043 910,1054 935,1051 948,1039 967,1048 983,1036 1010,1032 1039,1017 1052,1024 1063,1024 1079,1036 1093,1021 1090,1008 1101,1000 1115,985 1125,935 1145,930"/><polyline points="650,955 655,1000 660,1040 660,1340"/><polyline points="940,515 945,555 975,610 1010,650 1040,700 1075,760 1100,830 1115,895 1145,905 1145,930 1170,935 1175,975 1200,1020 1235,1070 1265,1108 1350,1108"/></g>
<g transform="translate(336,423) scale(0.25)" fill="none" stroke="#808080" stroke-width="5.8" stroke-linejoin="round"><polyline points="-6,98 158,103 160,38 231,36 231,-6"/><polyline points="408,-6 408,38 358,40 347,480"/><polyline points="408,38 660,42 662,-6"/><polyline points="660,42 805,42 895,55 920,90 960,115 990,150 1010,200 1035,235 1090,235 1100,205 1120,185 1125,155 1180,150 1225,130 1240,100 1240,45"/><polyline points="1240,42 1350,42"/><polyline points="1240,106 1258,107 1276,115 1293,130 1311,133 1326,154 1335,168 1359,178"/><polyline points="780,45 790,100 810,160 830,185 860,215 890,245 930,265 935,295 915,320 910,355 890,385 890,420 905,455 915,482"/><polyline points="1090,235 1130,260 1160,285 1185,300 1175,325 1150,345 1135,380 1110,405 1080,435 1070,460 1030,480 1015,500 985,488 960,487"/><polyline points="1175,335 1350,335"/><polyline points="-6,475 347,480 775,493 795,485 810,500 860,497 880,490 915,485 960,487"/><polyline points="775,493 770,530 740,545 733,570 735,600 725,650 695,660 690,700 678,715 675,740 668,785"/><polyline points="935,490 938,540 930,600 935,680 915,705 935,720 922,745 675,740"/><polyline points="922,745 925,785 965,800 975,830 1010,840 1050,860 1060,885 1085,890 1080,925 1098,950 1085,990 1075,1020 1060,1040 1350,1038"/><polyline points="1060,1040 1090,1060 1095,1090 1115,1100 1105,1150 1095,1185 1060,1200 1030,1235 1000,1230 990,1255"/><polyline points="150,483 128,520 170,545 178,570 185,610 215,640 235,682 375,685 415,735 430,765 465,785 490,775 515,800 545,798 575,750 605,742 640,770 668,785 700,800 725,840 745,855 790,852 835,870 820,900 790,925 775,960 775,1000 755,1030 765,1060 800,1090 815,1130 820,1180 850,1210 880,1250"/><polyline points="170,545 150,570 100,595 50,635 -6,672"/><polyline points="100,595 85,1340"/><polyline points="-6,1038 88,1040"/><polyline points="400,1340 402,1245 880,1250 990,1255 1010,1235 1030,1235 1060,1275 1100,1320"/></g>
<g transform="translate(660,750) scale(0.25)" fill="none" stroke="#808080" stroke-width="5.8" stroke-linejoin="round"><polyline points="-6,78 415,85 415,-6"/><polyline points="345,85 343,365"/><polyline points="-2,300 10,325 35,330 60,360 72,380 110,380 140,360 175,345 195,375 215,340 245,295 265,280 282,295 290,320 310,340 330,335 343,365 365,388 603,375 790,440 978,503"/><polyline points="72,380 95,395 100,430 85,465 82,495 -6,495"/><polyline points="82,495 70,555 55,600 60,635 -6,705"/><polyline points="60,635 95,605 120,600 150,580 185,570 215,590 252,600 240,630 255,660 265,700 268,740 290,770 275,800 272,865 275,1100"/><polyline points="272,865 310,862 345,830 380,800 420,785 480,780 535,770 570,745 572,705 610,690 640,665 670,620 700,560 735,490 790,440"/><polyline points="978,-6 975,175 980,577 1350,572"/><polyline points="975,175 1015,173 1040,185 1085,185 1130,195 1255,195 1255,148 1325,148 1330,70 1350,70"/><polyline points="1330,-6 1330,70"/></g>
<g transform="translate(672,90) scale(0.25)" fill="none" stroke="#808080" stroke-width="5.8" stroke-linejoin="round"><polyline points="363,520 360,1038 293,1040 293,1108 293,1322"/><polyline points="-6,1105 90,1110 293,1108"/><polyline points="1200,512 1202,745 1200,888"/><polyline points="852,895 1272,888 1278,1310 855,1318 852,895"/><polyline points="1272,960 1350,957"/><polyline points="1130,1316 1130,1340"/></g>
<g transform="translate(672,423) scale(0.25)" fill="none" stroke="#808080" stroke-width="5.8" stroke-linejoin="round"><polyline points="-6,42 50,40 80,45 80,58 225,58"/><polyline points="80,58 78,690"/><polyline points="15,178 45,182 68,186 78,192"/><polyline points="-6,337 78,337"/><polyline points="295,60 293,340"/><polyline points="295,157 350,155 385,162 392,145 410,140 412,152 458,150 460,118 495,115 498,72 520,60 545,68 578,70 568,130 478,135 480,150 492,152 490,175 430,178 400,188 405,225 392,238 388,258 410,255 422,268 400,280 398,293 382,292 380,275 350,262 320,250 308,270 300,265 278,262 282,275 258,285 262,295 293,300"/><polyline points="400,195 620,198 1133,192"/><polyline points="293,340 540,340 1133,332 1350,328"/><polyline points="1133,-6 1133,332 1135,895 925,898"/><polyline points="540,340 538,690"/><polyline points="293,340 280,365 270,400 245,415 245,445 222,465 218,500 205,530 185,590 165,605 160,630 140,650 122,680 120,690"/><polyline points="78,690 120,690 305,692 538,690 925,688 925,898 928,1178 930,1340"/><polyline points="120,690 118,1038"/><polyline points="-6,1040 175,1040 177,1080 362,1078"/><polyline points="305,692 310,780 308,900 285,902 283,958 365,960 365,1080 367,1182 365,1340"/><polyline points="367,1182 928,1178 1275,1172 1350,1168"/><polyline points="1275,1172 1278,1340"/></g>
<g transform="translate(996,750) scale(0.25)" fill="none" stroke="#808080" stroke-width="5.8" stroke-linejoin="round"><polyline points="-6,72 465,62 905,45"/><polyline points="48,72 52,430 50,435 57,572"/><polyline points="465,62 475,415 472,420 478,562"/><polyline points="-6,575 57,572 265,570 478,562 925,548"/><polyline points="265,570 270,775 265,780 270,1085"/></g>
<g transform="translate(0,0) scale(1)" fill="none" stroke="#808080" stroke-width="1.45" stroke-linejoin="round"><polyline points="727.8,437.3 728.5,442.1 733.8,442.1 731.1,437.9 732,433.9 735.2,429 736.7,433.9 742.7,429.4 746,425.4 746,420.5 754.6,419.5 754.9,414.6 759.8,411.3 760.2,419.5 885.8,419.5"/><polyline points="735.2,437.6 741.2,440.3 744.9,437.9 751.6,435.4 751.6,426.5 756.4,425.7 756.8,420.5"/><polyline points="651.3,368.1 649.3,380.2 650.7,387.5 656,391.6 656.7,394.9 655.4,404.3 653.3,408.3 654.7,412.3 651.3,416.3 646.7,417 648,421.7 647.3,427.1 646.7,431.7 646.2,434.5"/></g>

<!-- state lines -->
<g transform="translate(0,0) scale(1)" fill="none" stroke="#000" stroke-width="2.8" stroke-linejoin="round"><polyline points="18,199.2 135,205.5 236,209.3 336,212.2 468,215.2 551,216.8 672,219 760,218.8 800,218.5 897,217 1008,214.4 1100,213 1205.5,211.25"/><polyline points="898.25,100 898.25,217"/><polyline points="1213,411.25 1327,408"/><polyline points="1233,1017 1327,1013.7"/><polyline points="18,1006 99.5,1011"/><polyline points="99.5,1011 98,1041 92.5,1137"/><polyline points="1076.5,1022.5 1079.7,1121"/><polyline points="1072,1137 1072,1123.5 1327,1115"/></g>

<polygon points="135,205.5 236,209.3 336,212.2 468,215.2 551,216.8 672,219 760,218.8 800,218.5 897,217 1008,214.4 1100,213 1205.5,211.25 1213,411.25 1223.5,750 1233,1017 996,1023 835,1025 660,1025 499,1023 324,1018.75 99.5,1011 110,756 125,423" fill="none" stroke="#000" stroke-width="2.8" stroke-linejoin="miter"/>
</g>
<!-- frame -->
<rect x="20" y="101" width="1305.5" height="1034" fill="none" stroke="#000" stroke-width="2"/>
</svg>
<svg width="1344" height="1332" viewBox="0 0 1344 1332" style="position:absolute;left:0;top:0">
<defs><filter id="noop" x="0" y="0" width="1344" height="1332" filterUnits="userSpaceOnUse"><feOffset dx="0" dy="0"/></filter></defs>
<g filter="url(#noop)">
<!--TEXTSTART-->
<text x="312.21" y="45.6" font-size="34.50" textLength="209.50" lengthAdjust="spacingAndGlyphs">temperature</text><text x="532.31" y="45.6" font-size="34.50" textLength="74.55" lengthAdjust="spacingAndGlyphs">rank</text><text x="617.46" y="45.6" font-size="34.50" textLength="202.86" lengthAdjust="spacingAndGlyphs">(preliminary</text><text x="830.91" y="45.6" font-size="34.50" textLength="103.00" lengthAdjust="spacingAndGlyphs">PRISM</text><text x="944.51" y="45.6" font-size="34.50" textLength="88.08" lengthAdjust="spacingAndGlyphs">data)</text>
<text x="305.92" y="83.6" font-size="34.50" textLength="21.21" lengthAdjust="spacingAndGlyphs">2</text><text x="337.72" y="83.6" font-size="34.50" textLength="125.54" lengthAdjust="spacingAndGlyphs">months</text><text x="473.85" y="83.6" font-size="34.50" textLength="114.33" lengthAdjust="spacingAndGlyphs">ending</text><text x="598.77" y="83.6" font-size="34.50" textLength="173.39" lengthAdjust="spacingAndGlyphs">November</text><text x="782.76" y="83.6" font-size="34.50" textLength="84.82" lengthAdjust="spacingAndGlyphs">2014</text><text x="878.17" y="83.6" font-size="34.50" textLength="160.71" lengthAdjust="spacingAndGlyphs">(Oct-Nov)</text>
<rect x="379" y="113" width="588.5" height="94" fill="#fff" stroke="#000" stroke-width="2.6"/>
<text x="386.50" y="138.2" font-size="23.70" textLength="111.73" lengthAdjust="spacingAndGlyphs">statewide</text><text x="505.51" y="138.2" font-size="23.70" textLength="113.10" lengthAdjust="spacingAndGlyphs">departure</text><text x="625.89" y="138.2" font-size="23.70" textLength="53.29" lengthAdjust="spacingAndGlyphs">from</text><text x="686.46" y="138.2" font-size="23.70" textLength="124.82" lengthAdjust="spacingAndGlyphs">1901-2000</text><text x="818.56" y="138.2" font-size="23.70" textLength="49.84" lengthAdjust="spacingAndGlyphs">avg:</text><text x="875.68" y="138.2" font-size="23.70" textLength="80.23" lengthAdjust="spacingAndGlyphs">+0.6°F</text>
<text x="386.50" y="165" font-size="23.70" textLength="111.73" lengthAdjust="spacingAndGlyphs">statewide</text><text x="505.51" y="165" font-size="23.70" textLength="113.10" lengthAdjust="spacingAndGlyphs">departure</text><text x="625.89" y="165" font-size="23.70" textLength="53.29" lengthAdjust="spacingAndGlyphs">from</text><text x="686.46" y="165" font-size="23.70" textLength="124.82" lengthAdjust="spacingAndGlyphs">1991-2020</text><text x="818.56" y="165" font-size="23.70" textLength="49.84" lengthAdjust="spacingAndGlyphs">avg:</text><text x="875.68" y="165" font-size="23.70" textLength="80.23" lengthAdjust="spacingAndGlyphs">+0.4°F</text>
<text x="386.50" y="192" font-size="23.70" textLength="111.73" lengthAdjust="spacingAndGlyphs">statewide</text><text x="505.51" y="192" font-size="23.70" textLength="58.94" lengthAdjust="spacingAndGlyphs">rank:</text><text x="571.72" y="192" font-size="23.70" textLength="52.63" lengthAdjust="spacingAndGlyphs">59th</text><text x="631.64" y="192" font-size="23.70" textLength="164.99" lengthAdjust="spacingAndGlyphs">warmest/72nd</text><text x="803.90" y="192" font-size="23.70" textLength="82.50" lengthAdjust="spacingAndGlyphs">coldest</text>
<rect x="31.25" y="1042" width="626.75" height="83" fill="#fff" stroke="#000" stroke-width="2.6"/>
<text x="39.00" y="1065" font-size="22.25" textLength="78.64" lengthAdjust="spacingAndGlyphs">source:</text><text x="124.48" y="1065" font-size="22.25" textLength="66.44" lengthAdjust="spacingAndGlyphs">PRISM</text><text x="197.75" y="1065" font-size="22.25" textLength="82.74" lengthAdjust="spacingAndGlyphs">Climate</text><text x="287.32" y="1065" font-size="22.25" textLength="72.29" lengthAdjust="spacingAndGlyphs">Group,</text><text x="366.45" y="1065" font-size="22.25" textLength="78.95" lengthAdjust="spacingAndGlyphs">Oregon</text><text x="452.23" y="1065" font-size="22.25" textLength="56.91" lengthAdjust="spacingAndGlyphs">State</text><text x="515.97" y="1065" font-size="22.25" textLength="108.46" lengthAdjust="spacingAndGlyphs">University</text>
<text x="39.00" y="1088" font-size="22.25" textLength="55.01" lengthAdjust="spacingAndGlyphs">map:</text><text x="100.84" y="1088" font-size="22.25" textLength="96.11" lengthAdjust="spacingAndGlyphs">Colorado</text><text x="203.79" y="1088" font-size="22.25" textLength="82.74" lengthAdjust="spacingAndGlyphs">Climate</text><text x="293.36" y="1088" font-size="22.25" textLength="175.72" lengthAdjust="spacingAndGlyphs">Center/Colorado</text><text x="475.91" y="1088" font-size="22.25" textLength="56.91" lengthAdjust="spacingAndGlyphs">State</text><text x="539.65" y="1088" font-size="22.25" textLength="108.46" lengthAdjust="spacingAndGlyphs">University</text>
<text x="39.00" y="1111.25" font-size="22.25" textLength="47.77" lengthAdjust="spacingAndGlyphs">map</text><text x="93.60" y="1111.25" font-size="22.25" textLength="111.05" lengthAdjust="spacingAndGlyphs">generated</text><text x="211.48" y="1111.25" font-size="22.25" textLength="27.36" lengthAdjust="spacingAndGlyphs">06</text><text x="245.68" y="1111.25" font-size="22.25" textLength="65.54" lengthAdjust="spacingAndGlyphs">March</text><text x="318.05" y="1111.25" font-size="22.25" textLength="54.72" lengthAdjust="spacingAndGlyphs">2025</text>
<rect x="122.20" y="1147.5" width="157.67" height="40.5" fill="#327cb7"/>
<rect x="279.27" y="1147.5" width="157.67" height="40.5" fill="#6bacd1"/>
<rect x="436.34" y="1147.5" width="157.67" height="40.5" fill="#b1d5e7"/>
<rect x="593.41" y="1147.5" width="157.67" height="40.5" fill="#f7f6f6"/>
<rect x="750.49" y="1147.5" width="157.67" height="40.5" fill="#f8bfa4"/>
<rect x="907.56" y="1147.5" width="157.67" height="40.5" fill="#e48066"/>
<rect x="1064.63" y="1147.5" width="157.67" height="40.5" fill="#c43b3c"/>
<polygon points="122.5,1147.5 68.6,1167.75 122.5,1188" fill="#053061"/>
<polygon points="1222,1147.5 1275.9,1167.75 1222,1188" fill="#67001f"/>
<polygon points="122.5,1147.5 1222,1147.5 1275.9,1167.75 1222,1188 122.5,1188 68.6,1167.75" fill="none" stroke="#000" stroke-width="1.6" stroke-linejoin="miter"/>
<line x1="122.50" y1="1188" x2="122.50" y2="1197.7" stroke="#000" stroke-width="1.8"/>
<text x="78.13" y="1229.5" font-size="28.75" textLength="88.74" lengthAdjust="spacingAndGlyphs">record</text>
<text x="72.46" y="1260.75" font-size="28.75" textLength="100.08" lengthAdjust="spacingAndGlyphs">coldest</text>
<line x1="279.57" y1="1188" x2="279.57" y2="1197.7" stroke="#000" stroke-width="1.8"/>
<text x="247.65" y="1229.5" font-size="28.75" textLength="63.85" lengthAdjust="spacingAndGlyphs">10th</text>
<text x="229.53" y="1260.75" font-size="28.75" textLength="100.08" lengthAdjust="spacingAndGlyphs">coldest</text>
<line x1="436.64" y1="1188" x2="436.64" y2="1197.7" stroke="#000" stroke-width="1.8"/>
<text x="404.72" y="1229.5" font-size="28.75" textLength="63.85" lengthAdjust="spacingAndGlyphs">20th</text>
<text x="386.60" y="1260.75" font-size="28.75" textLength="100.08" lengthAdjust="spacingAndGlyphs">coldest</text>
<line x1="593.71" y1="1188" x2="593.71" y2="1197.7" stroke="#000" stroke-width="1.8"/>
<text x="561.79" y="1229.5" font-size="28.75" textLength="63.85" lengthAdjust="spacingAndGlyphs">35th</text>
<text x="543.67" y="1260.75" font-size="28.75" textLength="100.08" lengthAdjust="spacingAndGlyphs">coldest</text>
<line x1="750.79" y1="1188" x2="750.79" y2="1197.7" stroke="#000" stroke-width="1.8"/>
<text x="718.86" y="1229.5" font-size="28.75" textLength="63.85" lengthAdjust="spacingAndGlyphs">35th</text>
<text x="690.69" y="1260.75" font-size="28.75" textLength="120.20" lengthAdjust="spacingAndGlyphs">warmest</text>
<line x1="907.86" y1="1188" x2="907.86" y2="1197.7" stroke="#000" stroke-width="1.8"/>
<text x="875.93" y="1229.5" font-size="28.75" textLength="63.85" lengthAdjust="spacingAndGlyphs">20th</text>
<text x="847.76" y="1260.75" font-size="28.75" textLength="120.20" lengthAdjust="spacingAndGlyphs">warmest</text>
<line x1="1064.93" y1="1188" x2="1064.93" y2="1197.7" stroke="#000" stroke-width="1.8"/>
<text x="1033.00" y="1229.5" font-size="28.75" textLength="63.85" lengthAdjust="spacingAndGlyphs">10th</text>
<text x="1004.83" y="1260.75" font-size="28.75" textLength="120.20" lengthAdjust="spacingAndGlyphs">warmest</text>
<line x1="1222.00" y1="1188" x2="1222.00" y2="1197.7" stroke="#000" stroke-width="1.8"/>
<text x="1177.63" y="1229.5" font-size="28.75" textLength="88.74" lengthAdjust="spacingAndGlyphs">record</text>
<text x="1161.90" y="1260.75" font-size="28.75" textLength="120.20" lengthAdjust="spacingAndGlyphs">warmest</text>
<text x="273.72" y="1304" font-size="34.50" textLength="209.50" lengthAdjust="spacingAndGlyphs">temperature</text><text x="493.82" y="1304" font-size="34.50" textLength="74.55" lengthAdjust="spacingAndGlyphs">rank</text><text x="578.97" y="1304" font-size="34.50" textLength="54.58" lengthAdjust="spacingAndGlyphs">out</text><text x="644.15" y="1304" font-size="34.50" textLength="32.13" lengthAdjust="spacingAndGlyphs">of</text><text x="686.87" y="1304" font-size="34.50" textLength="63.62" lengthAdjust="spacingAndGlyphs">130</text><text x="761.08" y="1304" font-size="34.50" textLength="91.72" lengthAdjust="spacingAndGlyphs">years</text><text x="863.40" y="1304" font-size="34.50" textLength="207.68" lengthAdjust="spacingAndGlyphs">(1895-2024)</text>
</g>
<!--TEXTEND-->
</svg>
</body></html>
